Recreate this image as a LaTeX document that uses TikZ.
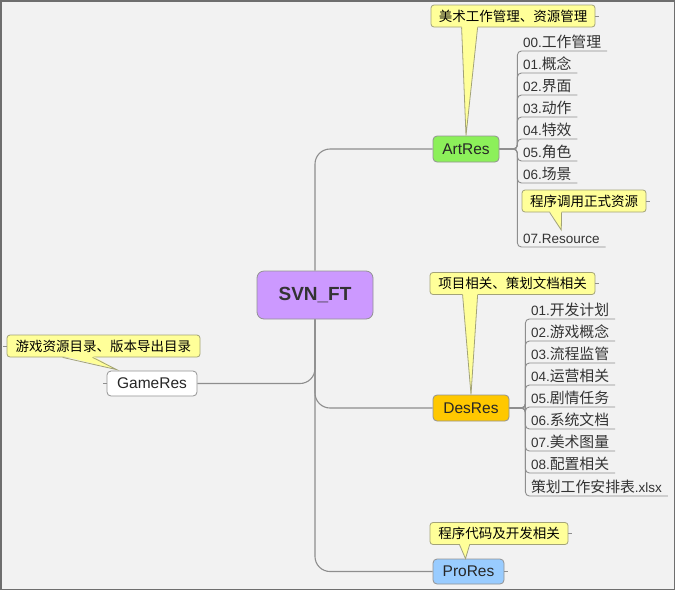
\documentclass[tikz,border=0pt]{standalone}
\usepackage{fontspec}
\setmainfont{Liberation Sans}
\newfontfamily\cjk[Scale=1.1]{Noto Sans CJK SC}
\newfontfamily\notefont{Noto Sans CJK SC}
\usetikzlibrary{calc}

\definecolor{bgc}{HTML}{F2F2F2}
\definecolor{framec}{HTML}{6E6E6E}
\definecolor{linec}{HTML}{8E8E8E}
\definecolor{notefill}{HTML}{FFFF99}
\definecolor{notedraw}{HTML}{A3A378}
\definecolor{artc}{HTML}{8CF05A}
\definecolor{desc}{HTML}{FFC800}
\definecolor{proc}{HTML}{99CCFF}
\definecolor{svnc}{HTML}{CC99FF}

\newcommand{\zhtext}[1]{{\cjk #1}}
% pointer of a callout: note, left/right offset of its base, tip
\newcommand{\notetip}[4]{%
  \fill[notefill] ($(#1.south west)+(#2,-1.5)$) -- (#4) -- ($(#1.south west)+(#3,-1.5)$) -- cycle;
  \draw[notedraw, line width=0.8pt] ($(#1.south west)+(#2,0)$) -- (#4) -- ($(#1.south west)+(#3,0)$);
}

\tikzset{
  branch/.style={draw=linec, line width=1.1pt, rounded corners=15pt},
  twig/.style={draw=linec, line width=0.9pt, rounded corners=4pt},
  topic/.style={draw=gray!85, line width=0.8pt, rounded corners=4pt, minimum height=26pt,
    inner sep=0pt, font=\fontsize{15.5}{18}\selectfont, text=black!85},
  leaf/.style={anchor=south west, outer sep=0pt, inner xsep=6pt, inner ysep=1pt,
    text height=12pt, text depth=3pt, font=\fontsize{13.5}{16}\selectfont, text=black!80},
  note/.style={draw=notedraw, fill=notefill, line width=0.8pt, rounded corners=3pt,
    minimum height=22pt, inner sep=0pt, font=\notefont\fontsize{13.5}{16}\selectfont},
}

\begin{document}
\begin{tikzpicture}[x=1pt,y=-1pt]

  % background and frame
  \useasboundingbox (0,0) rectangle (675,590);
  \fill[bgc] (0,0) rectangle (675,590);
  \draw[framec, line width=1.5pt] (0.75,0.75) rectangle (674.25,589.25);

  % main topics
  \node[topic, fill=svnc, minimum width=116pt, minimum height=48pt, rounded corners=7pt,
    font=\fontsize{19}{22}\selectfont\bfseries, text=black!80] (svn) at (315,295) {SVN\_FT};
  \node[topic, fill=artc, minimum width=66pt] (artres) at (466,149) {ArtRes};
  \node[topic, fill=desc, minimum width=76pt] (desres) at (471,408) {DesRes};
  \node[topic, fill=white, minimum width=90pt, minimum height=25pt] (gameres) at (152,383.5) {GameRes};
  \node[topic, fill=proc, minimum width=71pt, minimum height=25pt] (prores) at (468.5,571.5) {ProRes};

  \draw[branch] (svn.north) |- (artres.west);
  \draw[branch] (svn.south) |- (desres.west);
  \draw[branch] (svn.south) |- (gameres.east);
  \draw[branch] (svn.south) |- (prores.west);

  % ArtRes children
  \foreach \i/\yy/\txt in {0/51/{00.\zhtext{工作管理}}, 1/73/{01.\zhtext{概念}},
      2/95/{02.\zhtext{界面}}, 3/117/{03.\zhtext{动作}}, 4/139/{04.\zhtext{特效}},
      5/161/{05.\zhtext{角色}}, 6/183/{06.\zhtext{场景}}, 7/247/{07.Resource}}{
    \node[leaf] (a\i) at (517,\yy) {\txt};
    \draw[twig] (artres.east) -- ++(18,0) |- (a\i.south east);
  }

  % DesRes children
  \foreach \i/\yy/\txt in {1/319/{01.\zhtext{开发计划}}, 2/341/{02.\zhtext{游戏概念}},
      3/363/{03.\zhtext{流程监管}}, 4/385/{04.\zhtext{运营相关}}, 5/407/{05.\zhtext{剧情任务}},
      6/429/{06.\zhtext{系统文档}}, 7/451/{07.\zhtext{美术图量}}, 8/473/{08.\zhtext{配置相关}},
      9/496/{\zhtext{策划工作安排表}.xlsx}}{
    \node[leaf] (d\i) at (525,\yy) {\txt};
    \draw[twig] (desres.east) -- ++(16,0) |- (d\i.south east);
  }

  % callouts
  \node[note, minimum width=164pt] (artnote) at (513,16) {美术工作管理、资源管理};
  \node[note, minimum width=124pt] (resnote) at (584,201) {程序调用正式资源};
  \node[note, minimum width=165pt] (desnote) at (512.5,283.5) {项目相关、策划文档相关};
  \node[note, minimum width=193pt] (gamenote) at (103.5,346) {游戏资源目录、版本导出目录};
  \node[note, minimum width=138pt] (pronote) at (499,533.5) {程序代码及开发相关};

  \notetip{artnote}{31}{47}{artres.north}
  \notetip{resnote}{28}{40}{a7.north}
  \notetip{desnote}{33}{48}{desres.north}
  \notetip{gamenote}{56}{86}{$(gameres.north west)+(10,-1)$}
  \notetip{pronote}{30}{40}{$(prores.north)+(-3,0)$}

  % collapse stubs
  \foreach \n in {artnote, resnote, desnote, pronote, prores}{
    \draw[twig] (\n.east) -- ++(4,0);
  }
  \foreach \n in {gamenote, gameres}{
    \draw[twig] (\n.west) -- ++(-4,0);
  }

\end{tikzpicture}
\end{document}
